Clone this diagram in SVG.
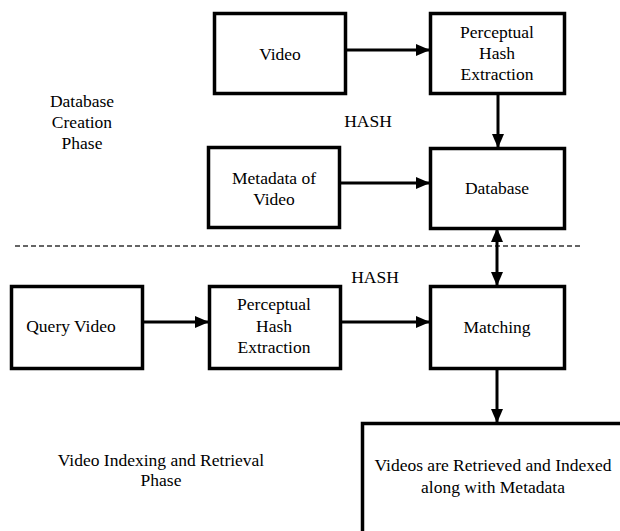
<svg xmlns="http://www.w3.org/2000/svg" width="620" height="531" viewBox="0 0 620 531">
<style>
.box{fill:#fff;stroke:#000;stroke-width:3.5}
.t{font-family:'Liberation Serif','DejaVu Serif',serif;font-size:17.5px;fill:#000;text-anchor:middle}
.c{stroke:#000;stroke-width:3;fill:none}
</style>
<defs>
<marker id="ah" markerUnits="userSpaceOnUse" markerWidth="14" markerHeight="12" refX="13" refY="6" orient="auto-start-reverse">
<path d="M0,0 L14,6 L0,12 Z" fill="#000"/>
</marker>
</defs>
<rect width="620" height="531" fill="#fff"/>
<g id="labels">
<text class="t" x="82" y="107">Database</text>
<text class="t" x="82" y="128">Creation</text>
<text class="t" x="82" y="149">Phase</text>
<text class="t" x="368" y="127">HASH</text>
<text class="t" x="375" y="283">HASH</text>
<text class="t" x="161" y="466">Video Indexing and Retrieval</text>
<text class="t" x="161" y="486">Phase</text>
</g>
<line x1="15" y1="246" x2="580" y2="246" stroke="#333" stroke-width="1.3" stroke-dasharray="5,3"/>
<g id="connectors">
<line class="c" x1="346" y1="50" x2="429" y2="50" marker-end="url(#ah)"/>
<line class="c" x1="340" y1="183" x2="429" y2="183" marker-end="url(#ah)"/>
<line class="c" x1="498" y1="95" x2="498" y2="147" marker-end="url(#ah)"/>
<line class="c" x1="497" y1="229" x2="497" y2="285" marker-start="url(#ah)" marker-end="url(#ah)"/>
<line class="c" x1="143" y1="322" x2="208" y2="322" marker-end="url(#ah)"/>
<line class="c" x1="341" y1="322" x2="429" y2="322" marker-end="url(#ah)"/>
<line class="c" x1="497" y1="369" x2="497" y2="422" marker-end="url(#ah)"/>
</g>
<g id="video"><rect class="box" x="214.5" y="13.5" width="131" height="80"/><text class="t" x="280" y="60">Video</text></g>
<g id="phe1"><rect class="box" x="430.5" y="13.5" width="134" height="80"/>
<text class="t" x="497" y="38">Perceptual</text><text class="t" x="497" y="59">Hash</text><text class="t" x="497" y="80">Extraction</text></g>
<g id="metadata"><rect class="box" x="208.5" y="147.5" width="131" height="80"/>
<text class="t" x="274" y="184">Metadata of</text><text class="t" x="274" y="205">Video</text></g>
<g id="database"><rect class="box" x="430.5" y="148.5" width="134" height="80"/><text class="t" x="497" y="194">Database</text></g>
<g id="query"><rect class="box" x="11.5" y="286.5" width="131" height="82"/><text class="t" x="71" y="332">Query Video</text></g>
<g id="phe2"><rect class="box" x="209.5" y="286.5" width="131" height="82"/>
<text class="t" x="274" y="310">Perceptual</text><text class="t" x="274" y="332">Hash</text><text class="t" x="274" y="353">Extraction</text></g>
<g id="matching"><rect class="box" x="430.5" y="286.5" width="134" height="82"/><text class="t" x="497" y="333">Matching</text></g>
<g id="result"><rect class="box" x="362.5" y="423.5" width="280" height="130"/>
<text class="t" x="493" y="471">Videos are Retrieved and Indexed</text><text class="t" x="493" y="493">along with Metadata</text></g>
</svg>
